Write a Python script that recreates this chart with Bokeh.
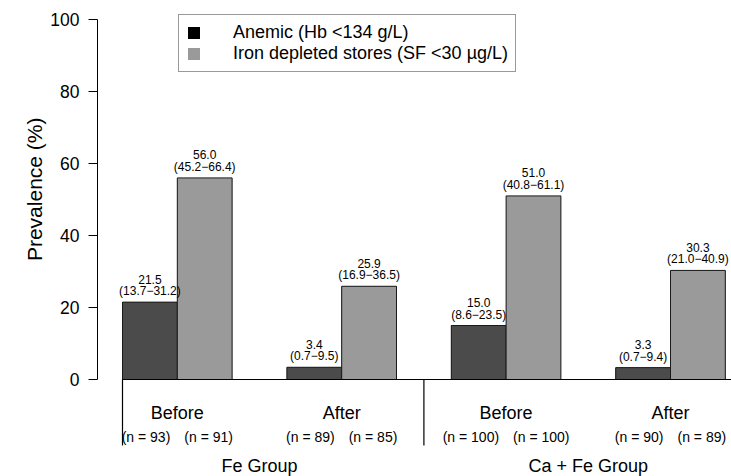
from bokeh.plotting import figure
from bokeh.models import (Range1d, FixedTicker, Legend, LegendItem, ColumnDataSource, Title)
from bokeh.core.properties import value
from bokeh.embed import file_html
from bokeh.resources import INLINE

# ---------------- data ----------------
groups = ["Fe Group", "Ca + Fe Group"]
times = ["Before", "After", "Before", "After"]
series = ["Anemic (Hb <134 g/L)", "Iron depleted stores (SF <30 \u00b5g/L)"]
anemic = [21.5, 3.4, 15.0, 3.3]
anemic_lo = [13.7, 0.7, 8.6, 0.7]
anemic_hi = [31.2, 9.5, 23.5, 9.4]
iron = [56.0, 25.9, 51.0, 30.3]
iron_lo = [45.2, 16.9, 40.8, 21.0]
iron_hi = [66.4, 36.5, 61.1, 40.9]
n_anemic = [93, 89, 100, 90]
n_iron = [91, 85, 100, 89]
y_ticks = [0, 20, 40, 60, 80, 100]

# ---------------- style ----------------
FONT = "Liberation Sans"
DARK = "#4b4b4b"
LIGHT = "#9a9a9a"
LEG_DARK = "#000000"
W, H = 731, 476

# barplot layout: bars 1 unit wide, 1 unit gap between clusters
def bar_left(i, j):
    return 1 + 3 * i + j

cl_center = [bar_left(i, 1) for i in range(len(times))]
grp_center = [(cl_center[2 * g] + cl_center[2 * g + 1]) / 2 for g in range(len(groups))]
first_left = bar_left(0, 0)
sep_x = (bar_left(1, 1) + 1 + bar_left(2, 0)) / 2
last_right = bar_left(len(times) - 1, 1) + 1

p = figure(width=W, height=H, output_backend="svg", toolbar_location=None,
           x_range=Range1d(0.5438, 12.113), y_range=Range1d(-26.94, 105.28),
           x_axis_type=None, min_border_left=97, min_border_right=0,
           min_border_top=0, min_border_bottom=0)
p.grid.visible = False
p.outline_line_color = None
p.background_fill_color = "white"
p.border_fill_color = "white"

ax = p.yaxis[0]
ax.ticker = FixedTicker(ticks=y_ticks)
ax.bounds = (0, 100)
ax.minor_tick_line_color = None
ax.major_tick_out = 9
ax.major_tick_in = 0
ax.major_label_standoff = 9
ax.major_label_text_font = FONT
ax.major_label_text_font_size = "17.5px"
ax.major_label_text_color = "black"
ax.axis_line_color = "black"
ax.major_tick_line_color = "black"

# y-axis title, placed along the 0-100 span like the reference
ytitle = Title(text="Prevalence (%)", align="right", offset=117, standoff=4,
               text_font=FONT, text_font_size="21px", text_font_style="normal",
               text_color="black")
p.add_layout(ytitle, "left")

# bars
xs, tops, fills, vlab, cilab = [], [], [], [], []
for i in range(len(times)):
    for j, (vals, lo, hi, col) in enumerate([(anemic, anemic_lo, anemic_hi, DARK),
                                              (iron, iron_lo, iron_hi, LIGHT)]):
        xs.append(bar_left(i, j) + 0.5)
        tops.append(vals[i])
        fills.append(col)
        vlab.append(f"{vals[i]:.1f}")
        cilab.append(f"({lo[i]:.1f}\u2212{hi[i]:.1f})")
src = ColumnDataSource(dict(x=xs, top=tops, fill=fills, v=vlab, ci=cilab))

# legend swatch renderers (drawn first, fully covered by the real bars)
r1 = p.vbar(x="x", top="top", bottom=0, width=1, source=src, fill_color=LEG_DARK, line_color=None)
r2 = p.vbar(x="x", top="top", bottom=0, width=1, source=src, fill_color=LIGHT, line_color=None)

p.vbar(x="x", top="top", bottom=0, width=1, fill_color="fill", line_color="#1a1a1a",
       line_width=1, source=src)
p.text(x="x", y="top", text="v", source=src, text_align="center", text_baseline="middle",
       y_offset=-23, text_font=value(FONT), text_font_size="12px", text_color="black")
p.text(x="x", y="top", text="ci", source=src, text_align="center", text_baseline="middle",
       y_offset=-11, text_font=value(FONT), text_font_size="12px", text_color="black")

# category frame lines
p.segment(x0=[first_left], y0=[0], x1=[last_right + 1], y1=[0], line_color="black", line_width=1.2)
p.segment(x0=[first_left, sep_x], y0=[0, 0], x1=[first_left, sep_x], y1=[-18.3, -18.3],
          line_color="black", line_width=1.2)

# category labels
p.text(x=cl_center, y=[-9.4] * len(times), text=times, text_align="center", text_baseline="middle",
       text_font=value(FONT), text_font_size="18px", text_color="black")
p.text(x=cl_center, y=[-16.1] * len(times), text=[f"(n = {n})" for n in n_anemic],
       text_align="right", text_baseline="middle", x_offset=-7,
       text_font=value(FONT), text_font_size="14px", text_color="black")
p.text(x=cl_center, y=[-16.1] * len(times), text=[f"(n = {n})" for n in n_iron],
       text_align="left", text_baseline="middle", x_offset=7,
       text_font=value(FONT), text_font_size="14px", text_color="black")
p.text(x=grp_center, y=[-24.0] * len(groups), text=groups, text_align="center",
       text_baseline="middle", text_font=value(FONT), text_font_size="18px", text_color="black")

leg = Legend(items=[LegendItem(label=series[0], renderers=[r1]),
                    LegendItem(label=series[1], renderers=[r2])],
             location=(81, 404), orientation="vertical")
leg.glyph_width = 15
leg.glyph_height = 15
leg.label_height = 18
leg.spacing = -3
leg.padding = 7
leg.label_standoff = 32
leg.margin = 0
leg.label_text_font = FONT
leg.label_text_font_size = "18px"
leg.label_text_color = "black"
leg.border_line_color = "#333333"
leg.border_line_width = 1
leg.background_fill_color = "white"
leg.background_fill_alpha = 1
p.add_layout(leg)

open("out.html", "w").write(file_html(p, INLINE))
